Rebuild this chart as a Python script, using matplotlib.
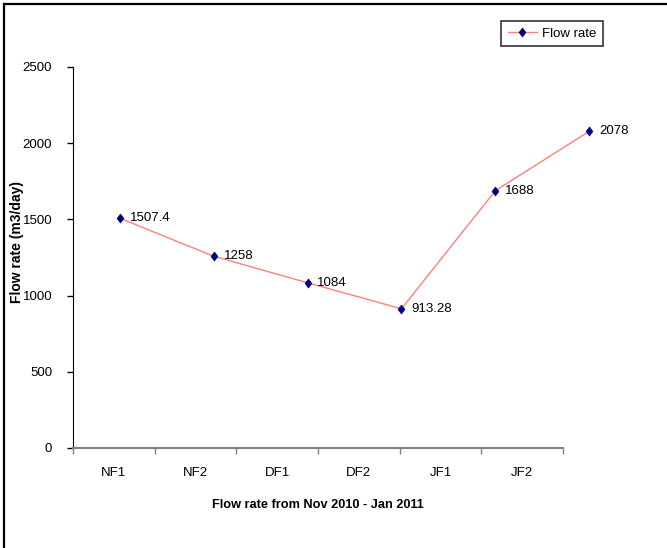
"""
Flow rate per fortnight, Nov 2010 - Jan 2011, drawn as a line chart with
value labels on each point.
"""
import matplotlib
matplotlib.use("Agg")
import matplotlib.pyplot as plt
from matplotlib.lines import Line2D

# ── Data ──────────────────────────────────────────────────────────────────────
categories = ["NF1", "NF2", "DF1", "DF2", "JF1", "JF2"]
flow_rate = [1507.4, 1258, 1084, 913.28, 1688, 2078]
y_ticks = [0, 500, 1000, 1500, 2000, 2500]

plt.rcParams["font.family"] = ["Liberation Sans", "DejaVu Sans"]

# tall diamond, a bit narrower than it is high
DIAMOND = [(0, 1), (0.75, 0), (0, -1), (-0.75, 0), (0, 1)]

fig = plt.figure(figsize=(6.67, 5.48), dpi=100)
ax = fig.add_axes([0.1094, 0.1825, 0.7346, 0.6953])

# ── Category axis ─────────────────────────────────────────────────────────────
n = len(categories)
ax.set_xlim(-0.5, n - 0.5)
ax.set_ylim(0, 2500)
ax.set_xticks([i - 0.5 for i in range(n + 1)])
ax.set_xticklabels([])
ax.set_xticks(range(n), minor=True)
ax.set_xticklabels(categories, minor=True, fontsize=9.5)
ax.tick_params(axis="x", which="major", direction="out", length=4,
               width=1, color="#808080")
ax.tick_params(axis="x", which="minor", length=0, pad=14)

ax.set_yticks(y_ticks)
ax.tick_params(axis="y", direction="out", length=4, width=1, pad=11,
               labelsize=9.5)

for side in ("top", "right"):
    ax.spines[side].set_visible(False)
ax.spines["left"].set_color("black")
ax.spines["bottom"].set_color("#808080")
ax.spines["bottom"].set_linewidth(1.5)

ax.set_xlabel("Flow rate from Nov 2010 - Jan 2011", fontsize=9.2,
              fontweight="bold", labelpad=14)
ax.set_ylabel("Flow rate (m3/day)", fontsize=10, fontweight="bold")
ax.yaxis.set_label_coords(-0.1, 0.54)

# ── Series (own x scale, shared y) ────────────────────────────────────────────
line_ax = ax.twiny()
line_ax.set_xlim(-0.5, 4.72)
line_ax.axis("off")
xs = list(range(n))
(line,) = line_ax.plot(xs, flow_rate, color="#FF7F7F", linewidth=1,
                       marker=DIAMOND, markersize=6.5,
                       markerfacecolor="#000080", markeredgecolor="#000080",
                       markeredgewidth=0.5, label="Flow rate", clip_on=False)
for x, v in zip(xs, flow_rate):
    line_ax.annotate(f"{v:g}", (x, v), xytext=(7, 0),
                     textcoords="offset points", ha="left", va="center",
                     fontsize=9.5, annotation_clip=False)

# ── Legend ────────────────────────────────────────────────────────────────────
leg = fig.legend(handles=[line], loc="upper left",
                 bbox_to_anchor=(501 / 667, 1 - 21 / 548),
                 borderaxespad=0, fancybox=False, edgecolor="black",
                 fontsize=9.5, handlelength=2.2, handletextpad=0.4,
                 borderpad=0.5)
leg.get_frame().set_linewidth(1.2)

# ── Outer frame (top and left edges) ──────────────────────────────────────────
fig.add_artist(Line2D([4 / 667, 1], [1 - 4 / 548, 1 - 4 / 548],
                      transform=fig.transFigure, color="black", linewidth=1.6))
fig.add_artist(Line2D([4 / 667, 4 / 667], [0, 1 - 4 / 548],
                      transform=fig.transFigure, color="black", linewidth=1.6))

fig.savefig("out.png", dpi=100)
